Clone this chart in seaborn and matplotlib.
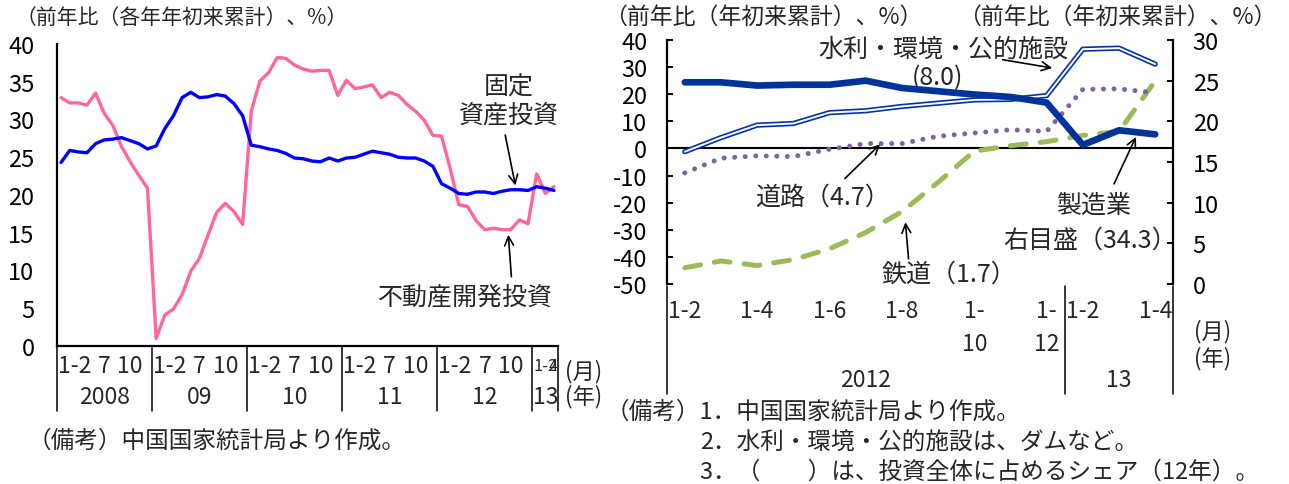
import numpy as np
import pandas as pd
import matplotlib
matplotlib.use("Agg")
import matplotlib.pyplot as plt
import matplotlib.transforms as mtransforms
import seaborn as sns

# ---------------- data ----------------
# Left panel: fixed-asset and real-estate development investment, YTD y/y %
left_years = ["2008", "09", "10", "11", "12", "13"]
left_months_per_year = [11, 11, 11, 11, 11, 3]
left_month_labels = [["1-2", "7", "10"]] * 5 + [["1-2", "4"]]
left_month_slots = [[0, 5, 8]] * 5 + [[0, 2]]

fixed_asset = [24.3, 25.9, 25.7, 25.6, 26.8, 27.3, 27.4, 27.6, 27.2, 26.8, 26.1,
               26.5, 28.8, 30.5, 32.9, 33.6, 32.9, 33.0, 33.3, 33.1, 32.1, 30.5,
               26.6, 26.4, 26.1, 25.9, 25.5, 24.9, 24.8, 24.5, 24.4, 24.9, 24.5,
               24.9, 25.0, 25.4, 25.8, 25.6, 25.4, 25.0, 24.9, 24.9, 24.5, 23.8,
               21.5, 20.9, 20.2, 20.1, 20.4, 20.4, 20.2, 20.5, 20.7, 20.7, 20.6,
               21.1, 20.9, 20.6]
real_estate = [32.9, 32.2, 32.2, 31.9, 33.5, 30.8, 29.2, 26.4, 24.4, 22.6, 20.9,
               1.0, 4.1, 4.9, 6.8, 9.9, 11.6, 14.7, 17.7, 18.9, 17.8, 16.1,
               31.1, 35.1, 36.2, 38.2, 38.1, 37.2, 36.7, 36.4, 36.5, 36.5, 33.2,
               35.2, 34.1, 34.3, 34.6, 32.9, 33.6, 33.2, 32.0, 31.1, 29.9, 27.9,
               27.8, 23.5, 18.7, 18.5, 16.6, 15.4, 15.6, 15.4, 15.4, 16.7, 16.2,
               22.8, 20.2, 21.1]

# Right panel: investment by sector, YTD y/y %
right_years = ["2012", "13"]
right_months_per_year = [11, 3]
right_month_labels = ["1-2", "1-4", "1-6", "1-8", "1-\n10", "1-\n12", "1-2", "1-4"]
right_month_slots = [0, 2, 4, 6, 8, 10, 11, 13]

water_env_public = [-1.2, 4.0, 8.6, 9.2, 13.2, 13.9, 15.5, 16.7, 17.9, 18.1, 19.5, 36.6, 37.0, 31.1]
road = [-9.0, -3.6, -2.7, -3.0, -0.3, 1.8, 1.8, 4.5, 5.7, 6.9, 6.3, 21.8, 22.0, 20.5]
railway = [-44.0, -41.5, -43.2, -41.0, -37.0, -31.0, -23.3, -12.5, -1.0, 1.0, 2.5, 4.8, 6.3, 24.9]
manufacturing = [24.8, 24.8, 24.4, 24.5, 24.5, 25.0, 24.1, 23.7, 23.3, 23.0, 22.3, 17.1, 18.9, 18.4]

# ---------------- style ----------------
sns.set_theme(style="white")
plt.rcParams["font.family"] = ["Noto Sans CJK JP", "DejaVu Sans"]
plt.rcParams["axes.unicode_minus"] = False

W, H = 1289, 485
fig = plt.figure(figsize=(W / 100, H / 100), dpi=100)


def fx(px):
    return px / W


def fy(py):
    return 1 - py / H


TICK_FS = 17
LAB_FS = 16.5
TXT_FS = 18
NOTE_FS = 17
UNIT_FS = 16

# ================= left panel =================
nL = len(fixed_asset)
xL = np.arange(nL)
dfL = pd.DataFrame({"x": xL, "fixed": fixed_asset, "re": real_estate})

axL = fig.add_axes([fx(56.7), fy(347), (558.3 - 56.7) / W, (347 - 45) / H])
sns.lineplot(data=dfL, x="x", y="re", ax=axL, color="#FF6699", lw=2.4, zorder=3)
sns.lineplot(data=dfL, x="x", y="fixed", ax=axL, color="#0000FF", lw=2.4, zorder=4)
axL.set_xlim(-0.5, nL - 0.5)
axL.set_ylim(0, 40)
axL.set_yticks(np.arange(0, 41, 5))
axL.set_xticks([])
axL.set_xlabel("")
axL.set_ylabel("")
for s in ["top", "right"]:
    axL.spines[s].set_visible(False)
for s in ["left", "bottom"]:
    axL.spines[s].set_color("black")
    axL.spines[s].set_linewidth(1.6)
axL.tick_params(axis="y", direction="in", length=4, width=1.4, colors="black",
                labelsize=TICK_FS, pad=16)

tL = mtransforms.blended_transform_factory(axL.transData, fig.transFigure)
edges = np.concatenate([[0], np.cumsum(left_months_per_year)]) - 0.5
for e in edges:
    axL.plot([e, e], [fy(347), fy(412)], transform=tL, color="black", lw=1.1, clip_on=False)
for k, yr in enumerate(left_years):
    start, end = edges[k], edges[k + 1]
    fig.text((start + end) / 2, fy(398), yr, transform=tL, ha="center", va="center", fontsize=LAB_FS)
    short = end - start < 5
    for j, (lab, slot) in enumerate(zip(left_month_labels[k], left_month_slots[k])):
        fs = LAB_FS * (0.72 if short else 1.0)
        if j == 0:
            fig.text(start + 0.1, fy(367), lab, transform=tL, ha="left", va="center", fontsize=fs)
        elif short:
            fig.text(end, fy(367), lab, transform=tL, ha="right", va="center", fontsize=fs)
        else:
            fig.text(start + 0.5 + slot, fy(367), lab, transform=tL, ha="center", va="center", fontsize=fs)
fig.text(fx(565), fy(372), "(月)", ha="left", va="center", fontsize=UNIT_FS)
fig.text(fx(565), fy(397), "(年)", ha="left", va="center", fontsize=UNIT_FS)

fig.text(fx(16), fy(18), "（前年比（各年年初来累計）、%）", ha="left", va="center", fontsize=15)
fig.text(fx(28), fy(441), "（備考）中国国家統計局より作成。", ha="left", va="center", fontsize=NOTE_FS)

arrow = dict(arrowstyle="->", color="black", lw=1.2, mutation_scale=16)
axL.text(51.8, 34.4, "固定", ha="center", va="center", fontsize=TXT_FS)
axL.text(51.8, 30.6, "資産投資", ha="center", va="center", fontsize=TXT_FS)
axL.annotate("", xy=(52.6, 20.9), xytext=(51.3, 28.3), arrowprops=arrow)
axL.text(46.8, 6.5, "不動産開発投資", ha="center", va="center", fontsize=TXT_FS)
axL.annotate("", xy=(51.7, 15.1), xytext=(52.1, 8.8), arrowprops=arrow)

# ================= right panel =================
nR = len(manufacturing)
xR = np.arange(nR)
dfR = pd.DataFrame({"x": xR, "water": water_env_public, "road": road,
                    "rail": railway, "mfg": manufacturing})

axR = fig.add_axes([fx(666.7), fy(285), (1173.3 - 666.7) / W, (285 - 41) / H])
axR.axhline(0, color="black", lw=1.5, zorder=1)
sns.lineplot(data=dfR, x="x", y="rail", ax=axR, color="#9BBB59", lw=3.6,
             linestyle=(0, (3.2, 2.8)), dash_capstyle="round", zorder=3)
sns.lineplot(data=dfR, x="x", y="road", ax=axR, color="#8064A2", lw=3.6,
             linestyle=(0, (0.01, 2.1)), dash_capstyle="round", zorder=3)
sns.lineplot(data=dfR, x="x", y="water", ax=axR, color="#0033A0", lw=3.8, zorder=4)
sns.lineplot(data=dfR, x="x", y="water", ax=axR, color="white", lw=1.4, zorder=5)
axR.set_xlim(-0.5, nR - 0.5)
axR.set_ylim(-50, 40)
axR.set_yticks(np.arange(-50, 41, 10))
axR.set_yticklabels([f"{v:d}" for v in range(-50, 41, 10)])
axR.set_xticks([])
axR.set_xlabel("")
axR.set_ylabel("")
for s in ["top", "right", "bottom"]:
    axR.spines[s].set_visible(False)
axR.spines["left"].set_color("black")
axR.spines["left"].set_linewidth(1.6)
axR.tick_params(axis="y", direction="in", length=4, width=1.4, colors="black",
                labelsize=TICK_FS, pad=14)

axR2 = axR.twinx()
sns.lineplot(data=dfR, x="x", y="mfg", ax=axR2, color="#003399", lw=4.8, zorder=6)
axR2.set_ylim(0, 30)
axR2.set_yticks(np.arange(0, 31, 5))
axR2.set_xlim(-0.5, nR - 0.5)
axR2.set_ylabel("")
axR2.set_xlabel("")
for s in ["top", "left", "bottom"]:
    axR2.spines[s].set_visible(False)
axR2.spines["right"].set_color("black")
axR2.spines["right"].set_linewidth(1.6)
axR2.tick_params(axis="y", direction="in", length=4, width=1.4, colors="black",
                 labelsize=TICK_FS, pad=14)

tR = mtransforms.blended_transform_factory(axR.transData, fig.transFigure)
edgesR = np.concatenate([[0], np.cumsum(right_months_per_year)]) - 0.5
for e in edgesR:
    axR.plot([e, e], [fy(287), fy(395)], transform=tR, color="black", lw=1.1, clip_on=False)
for k, yr in enumerate(right_years):
    fig.text((edgesR[k] + edgesR[k + 1]) / 2, fy(381), yr, transform=tR,
             ha="center", va="center", fontsize=LAB_FS)
for lab, slot in zip(right_month_labels, right_month_slots):
    fig.text(slot, fy(300), lab, transform=tR, ha="center", va="top",
             fontsize=LAB_FS, linespacing=1.55)
fig.text(fx(1194), fy(332), "(月)", ha="left", va="center", fontsize=UNIT_FS)
fig.text(fx(1194), fy(359), "(年)", ha="left", va="center", fontsize=UNIT_FS)

fig.text(fx(604), fy(17), "（前年比（年初来累計）、%）", ha="left", va="center", fontsize=16.5)
fig.text(fx(958), fy(17), "（前年比（年初来累計）、%）", ha="left", va="center", fontsize=16.5)

fig.text(fx(606), fy(412), "（備考）1．中国国家統計局より作成。", ha="left", va="center", fontsize=NOTE_FS)
fig.text(fx(700), fy(443), "2．水利・環境・公的施設は、ダムなど。", ha="left", va="center", fontsize=NOTE_FS)
fig.text(fx(700), fy(472), "3．（　　）は、投資全体に占めるシェア（12年）。", ha="left", va="center", fontsize=NOTE_FS)

axR.text(7.14, 36.7, "水利・環境・公的施設", ha="center", va="center", fontsize=TXT_FS)
axR.text(6.97, 26.4, "(8.0)", ha="center", va="center", fontsize=TXT_FS)
axR.annotate("", xy=(10.23, 29.5), xytext=(8.71, 32.9), arrowprops=arrow)

axR.text(1.95, -17.7, "道路（4.7）", ha="left", va="center", fontsize=TXT_FS)
axR.annotate("", xy=(5.45, 2.2), xytext=(4.37, -11.8), arrowprops=arrow)

axR.text(7.3, -46.1, "鉄道（1.7）", ha="center", va="center", fontsize=TXT_FS)
axR.annotate("", xy=(6.09, -26.2), xytext=(6.19, -41.7), arrowprops=arrow)

axR.text(11.31, -20.7, "製造業", ha="center", va="center", fontsize=TXT_FS)
axR.text(11.2, -33.6, "右目盛（34.3）", ha="center", va="center", fontsize=TXT_FS)
axR.annotate("", xy=(12.5, 5.2), xytext=(11.83, -14.0), arrowprops=arrow)

fig.savefig("out.png", dpi=100)
